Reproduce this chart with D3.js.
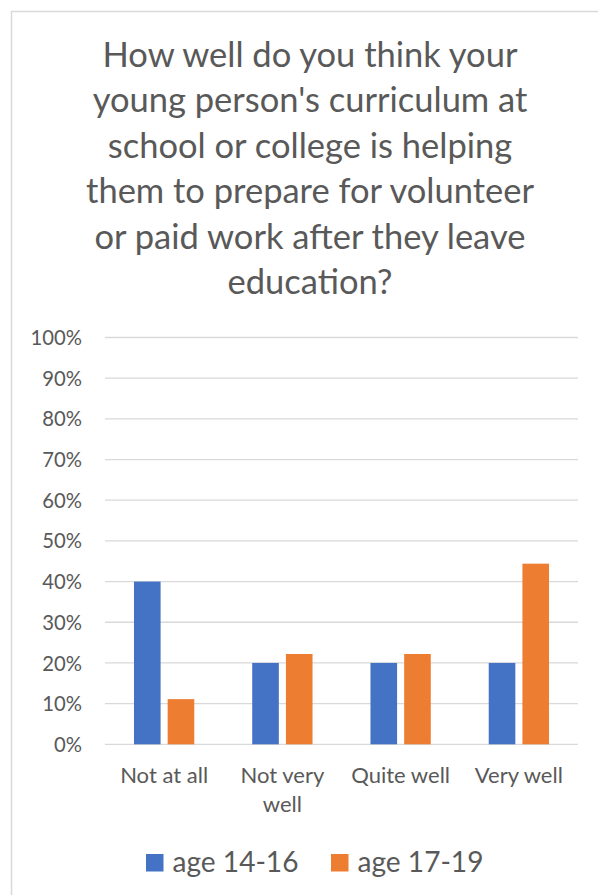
<!DOCTYPE html>
<html>
<head>
<meta charset="utf-8">
<script src="https://cdn.jsdelivr.net/npm/d3@7"></script>
<style>
  html, body { margin: 0; padding: 0; background: #fff; }
  svg { display: block; }
  text { font-family: Lato, "Open Sans", sans-serif; fill: #595959; }
</style>
</head>
<body>
<svg id="chart" width="598" height="895"></svg>
<script>
const titleLines = [
  "How well do you think your",
  "young person's curriculum at",
  "school or college is helping",
  "them to prepare for volunteer",
  "or paid work after they leave",
  "education?"
];
const categories = [["Not at all"], ["Not very", "well"], ["Quite well"], ["Very well"]];
const categoryKeys = ["Not at all", "Not very well", "Quite well", "Very well"];
const seriesNames = ["age 14-16", "age 17-19"];
const seriesColors = ["#4472C4", "#ED7D31"];
const values1416 = [0.40, 0.20, 0.20, 0.20];
const values1719 = [0.111, 0.222, 0.222, 0.444];
const yTicks = [0, 0.1, 0.2, 0.3, 0.4, 0.5, 0.6, 0.7, 0.8, 0.9, 1.0];

const svg = d3.select("#chart");

// measure helper: font size that gives a target width
function fitSize(str, targetWidth) {
  const t = svg.append("text").attr("font-size", 100).text(str);
  const w = t.node().getComputedTextLength();
  t.remove();
  return 100 * targetWidth / w;
}

// border
svg.append("rect")
  .attr("x", 11.5).attr("y", 11.5)
  .attr("width", 620).attr("height", 920)
  .attr("fill", "none").attr("stroke", "#d9d9d9").attr("stroke-width", 1.5);

// title
const titleSize = fitSize(titleLines[3], 448);
const titleBaselines = [66.7, 112.2, 157.7, 203.2, 248.7, 294.2];
svg.append("g").selectAll("text").data(titleLines).join("text")
  .attr("x", 310)
  .attr("y", (d, i) => titleBaselines[i])
  .attr("text-anchor", "middle")
  .attr("font-size", titleSize)
  .text(d => d);

// scales
const y = d3.scaleLinear().domain([0, 1]).range([744.3, 337.5]);
const x0 = d3.scaleBand().domain(categoryKeys).range([105, 578])
  .paddingInner(0.49).paddingOuter(0.245);
const x1 = d3.scaleBand().domain(seriesNames).range([0, x0.bandwidth()]).paddingInner(0.21);

// gridlines
svg.append("g").selectAll("line").data(yTicks).join("line")
  .attr("x1", 105).attr("x2", 578)
  .attr("y1", d => y(d)).attr("y2", d => y(d))
  .attr("stroke", "#d9d9d9").attr("stroke-width", 1.3);

// y axis labels via d3 axis
const tickSize = fitSize("100%", 51.5);
const yAxis = d3.axisLeft(y).tickValues(yTicks).tickFormat(d3.format(".0%")).tickSize(0).tickPadding(0);
const gy = svg.append("g").attr("transform", "translate(82,0)").call(yAxis);
gy.select(".domain").remove();
gy.selectAll("text").attr("font-size", tickSize).attr("fill", "#595959")
  .attr("font-family", "Lato, 'Open Sans', sans-serif").attr("dy", "0.35em");

// bars
const data = categoryKeys.map((c, i) => ({ c, vals: [values1416[i], values1719[i]] }));
const groups = svg.append("g").selectAll("g").data(data).join("g")
  .attr("transform", d => `translate(${x0(d.c)},0)`);
groups.selectAll("rect").data(d => d.vals.map((v, j) => ({ v, s: seriesNames[j], j })))
  .join("rect")
  .attr("x", d => x1(d.s))
  .attr("width", x1.bandwidth())
  .attr("y", d => y(d.v))
  .attr("height", d => y(0) - y(d.v))
  .attr("fill", d => seriesColors[d.j]);

// category labels
const catSize = fitSize("Not at all", 88);
const catG = svg.append("g");
categories.forEach((lines, i) => {
  const cx = x0(categoryKeys[i]) + x0.bandwidth() / 2;
  lines.forEach((ln, k) => {
    catG.append("text")
      .attr("x", cx).attr("y", 783.3 + k * 28.4)
      .attr("text-anchor", "middle")
      .attr("font-size", catSize)
      .text(ln);
  });
});

// legend
const legSize = fitSize("age 14-16", 126);
const legendX = [146, 331];
const lg = svg.append("g").selectAll("g").data(seriesNames).join("g")
  .attr("transform", (d, i) => `translate(${legendX[i]},0)`);
lg.append("rect").attr("x", 0).attr("y", 854).attr("width", 17.5).attr("height", 17.5)
  .attr("fill", (d, i) => seriesColors[i]);
lg.append("text").attr("x", 26.5).attr("y", 871.5)
  .attr("font-size", legSize).text(d => d);
</script>
</body>
</html>
